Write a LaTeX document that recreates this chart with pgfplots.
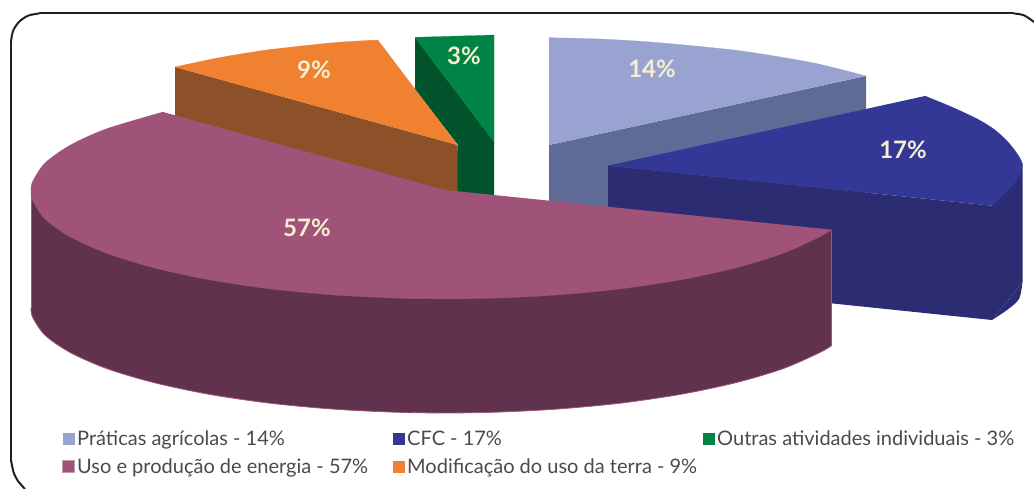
\documentclass[border=0pt]{standalone}
\usepackage{pgfplots}
\pgfplotsset{compat=1.18}
\usepackage{fontspec}
\setmainfont{Lato}
\definecolor{lbT}{HTML}{99A3D1}\definecolor{lbS}{HTML}{5D6B96}
\definecolor{blT}{HTML}{333795}\definecolor{blS}{HTML}{2B2C72}
\definecolor{puT}{HTML}{A05379}\definecolor{puS}{HTML}{61324E}
\definecolor{orT}{HTML}{EF8131}\definecolor{orS}{HTML}{8C5128}
\definecolor{grT}{HTML}{008445}\definecolor{grS}{HTML}{00532B}
\definecolor{lab}{HTML}{F5EFCF}\definecolor{txt}{HTML}{4A4A4C}\definecolor{frm}{HTML}{231F20}
\begin{document}
\begin{tikzpicture}
\path[use as bounding box] (0,0) rectangle (1034pt,489pt);
\begin{axis}[
  at={(0,0)}, anchor=south west,
  scale only axis, width=1034pt, height=489pt,
  xmin=0, xmax=1034, ymin=0, ymax=489, y dir=reverse,
  hide axis, clip=true,
  legend style={at={(axis cs:62,429)}, anchor=north west, draw=none, fill=none, inner sep=0pt,
    font=\fontsize{20}{22}\selectfont\color{txt},
    /tikz/column 2/.style={column sep=23pt},
    /tikz/column 4/.style={column sep=4pt},
    row sep=7pt},
  legend columns=3, legend cell align=left,
  legend image code/.code={\fill[#1] (0pt,-6pt) rectangle (12pt,6pt);},
]
% frame
\addplot[frm, line width=2pt, smooth, forget plot] coordinates {(11,41.5)(13.1,30.8)(19.2,21.7)(28.3,15.6)(39,13.5)};
\addplot[frm, line width=2pt, forget plot] coordinates {(39,13.5)(1014,13.5)};
\addplot[frm, line width=2pt, smooth, forget plot] coordinates {(1014,13.5)(1024,15.3)(1034,22)};
\addplot[frm, line width=2pt, forget plot] coordinates {(11,41.5)(11,460)};
\addplot[frm, line width=2pt, smooth, forget plot] coordinates {(11,460)(13.5,472)(18,481)(25,489)};
% light blue
\addplot[fill=lbS, draw=none, forget plot] coordinates {(549,145)(866,76)(866,215)(549,215)(549,145)};
\addplot[fill=lbT, draw=lbT, line width=.2pt, smooth, forget plot] coordinates {(549,37.7)(600,39)(647,41.7)(700,46.5)(747,51.7)(814,63)(866,76)};
\addplot[fill=lbT, draw=none, forget plot] coordinates {(549,37.7)(700,46.5)(866,76)(549,145)(549,37.7)};
% green
\addplot[fill=grS, draw=none, forget plot] coordinates {(415,37.3)(494,141.7)(494,200)(450,200)(458,145)(415,89.3)(415,37.3)};
\addplot[fill=grT, draw=grT, line width=.2pt, forget plot] coordinates {(415,37.3)(494,35)(494,141.7)(415,37.3)};
% orange
\addplot[fill=orS, draw=none, forget plot] coordinates {(175,67)(457.5,145)(457.5,195)(175,118)(175,67)};
\addplot[fill=orT, draw=orT, line width=.2pt, smooth, forget plot] coordinates {(175,67)(220,57.5)(267,50)(333,42.7)(378,40)};
\addplot[fill=orT, draw=none, forget plot] coordinates {(175,67)(267,50)(378,40)(457.5,145)(175,67)};
% blue
\addplot[fill=blS, draw=none, forget plot] coordinates {(608,165.7)(992,205.7)(1022.5,163)(1022.5,282)(992,320)(831,303.3)(608,285)(608,165.7)};
\addplot[fill=blS, draw=none, smooth, forget plot] coordinates {(1022.5,282)(1019,299)(1007,310)(992,320)};
\addplot[fill=blT, draw=blT, line width=.2pt, smooth, forget plot] coordinates {(925,96)(947,105)(965,113)(981,121)(995,130)(1007,141)(1016,152)(1022,163)(1020,175)(1012,186)(1002,196)(992,205.7)};
\addplot[fill=blT, draw=none, forget plot] coordinates {(925,96)(608,165.7)(992,205.7)(1022,163)(925,96)};
% purple
\addplot[fill=puS, draw=puT, line width=.8pt, smooth, forget plot] coordinates {(31,308)(32.6,317.2)(45,335.2)(70,352.4)(106,368.3)(152.3,382.2)(207.5,394)(270,403.2)(337.8,409.4)(409,412.6)(481,412.6)(552.2,409.4)(620,403.2)(682.5,394)(737.7,382.2)(784,368.3)(820,352.4)(831.6,345.6)};
\addplot[fill=puS, draw=none, forget plot] coordinates {(31,191)(31,308)(409,412.6)(831.6,345.6)(831.6,229.7)(31,191)};
\addplot[puT, line width=.8pt, forget plot] coordinates {(31,191)(31,308)};
\addplot[puT, line width=.8pt, forget plot] coordinates {(831.6,229.7)(831.6,345.6)};
\addplot[fill=puT, draw=puT, line width=.2pt, smooth, forget plot] coordinates {(163,112)(106,129)(70,145.3)(45,163)(32.6,181.6)(31,191)(32.6,200.4)(45,219)(70,236.7)(106,253)(152.3,267.4)(207.5,279.5)(270,288.9)(337.8,295.3)(409,298.6)};
\addplot[fill=puT, draw=puT, line width=.2pt, smooth, forget plot] coordinates {(409,298.6)(481,298.6)(552.2,295.3)(620,288.9)(682.5,279.5)(737.7,267.4)(784,253)(820,236.7)(831.6,229.7)};
\addplot[fill=puT, draw=none, forget plot] coordinates {(163,112)(445,190)(831.6,229.7)(620,288.9)(409,298.6)(152.3,267.4)(31,191)(163,112)};
% legend
\addlegendimage{draw=none,fill=lbT}\addlegendentry{Práticas agrícolas - 14\%}
\addlegendimage{draw=none,fill=blT}\addlegendentry{CFC - 17\%}
\addlegendimage{draw=none,fill=grT}\addlegendentry{Outras atividades individuais - 3\%}
\addlegendimage{draw=puT!60,line width=1pt,fill=puT}\addlegendentry{Uso e produção de energia - 57\%}
\addlegendimage{draw=none,fill=orT}\addlegendentry{Modificação do uso da terra - 9\%}
% labels
\begin{scope}[every node/.style={font=\fontsize{24}{26}\selectfont\bfseries, text=lab}]
\node at (axis cs:652,69) {14\%};
\node at (axis cs:903,150) {17\%};
\node at (axis cs:464,56) {3\%};
\node at (axis cs:314,70) {9\%};
\node at (axis cs:307,228) {57\%};
\end{scope}
\end{axis}
\end{tikzpicture}
\end{document}
